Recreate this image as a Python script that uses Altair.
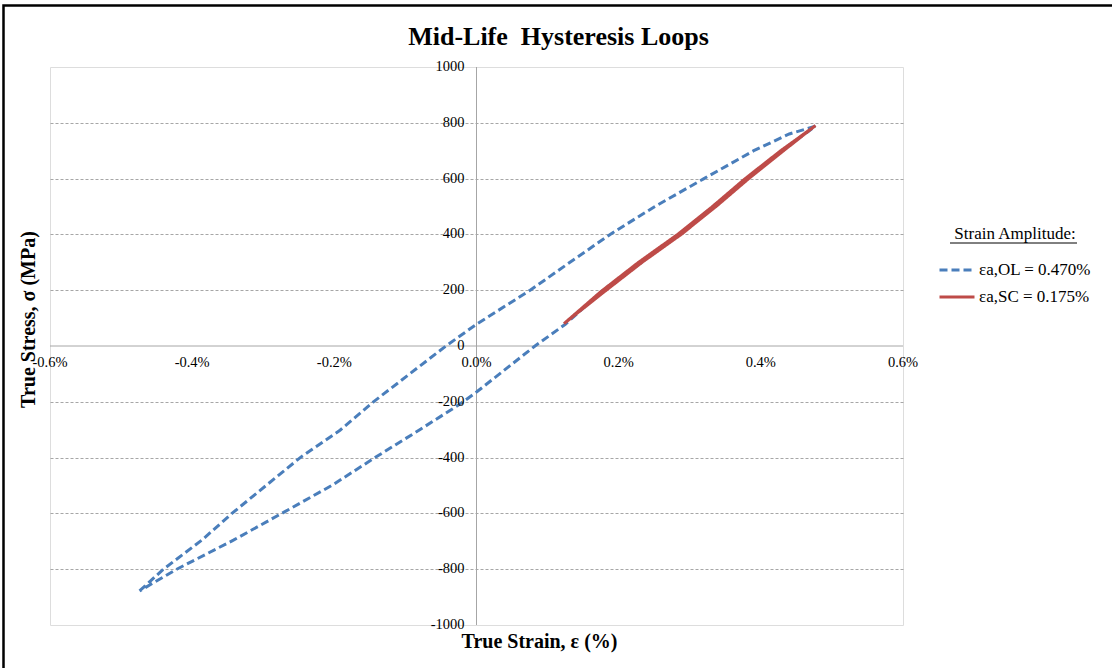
import altair as alt
import pandas as pd

SERIF = "Liberation Serif"

# Overload loop (OL): true strain in %, true stress in MPa, listed in traversal order
ol_strain = [-0.474, -0.4405, -0.3865, -0.344, -0.248, -0.192, -0.145, -0.043, 0.0,
             0.0755, 0.1315, 0.188, 0.251, 0.32, 0.39, 0.44, 0.4768,
             0.43, 0.38, 0.333, 0.285, 0.232, 0.178, 0.125, 0.0823, 0.0,
             -0.0232, -0.081, -0.1428, -0.203, -0.274, -0.342, -0.4217, -0.474]
ol_stress = [-878, -800, -696, -600, -400, -302, -200, 0, 78,
             200, 300, 400, 500, 600, 700, 760, 788,
             700, 600, 500, 400, 300, 200, 78, 0, -165,
             -208, -302, -400, -499, -600, -696, -800, -878]

# Small-cycle loop (SC)
sc_strain = [0.123, 0.175, 0.228, 0.283, 0.332, 0.378, 0.428, 0.4768,
             0.432, 0.383, 0.337, 0.288, 0.233, 0.18, 0.123]
sc_stress = [80, 195, 300, 400, 500, 600, 700, 790,
             700, 600, 500, 400, 300, 195, 80]

series_names = ["εa,OL = 0.470%", "εa,SC = 0.175%"]
series_colors = ["#4a7ebb", "#be4b48"]
series_dash = [[8, 4], [1, 0]]

x_ticks = [-0.6, -0.4, -0.2, 0.0, 0.2, 0.4, 0.6]
x_tick_labels = ["-0.6%", "-0.4%", "-0.2%", "0.0%", "0.2%", "0.4%", "0.6%"]
y_ticks = [1000, 800, 600, 400, 200, 0, -200, -400, -600, -800, -1000]
y_tick_labels = ["1000", "800", "600", "400", "200", "0", "-200", "-400", "-600", "-800", "-1000"]
grid_values = [800, 600, 400, 200, -200, -400, -600, -800]

loops = pd.concat([
    pd.DataFrame({"strain": ol_strain, "stress": ol_stress,
                  "series": series_names[0], "idx": range(len(ol_strain))}),
    pd.DataFrame({"strain": sc_strain, "stress": sc_stress,
                  "series": series_names[1], "idx": range(len(sc_strain))}),
])
x_lab = pd.DataFrame({"strain": x_ticks, "stress": 0, "label": x_tick_labels})
y_lab = pd.DataFrame({"strain": 0.0, "stress": y_ticks, "label": y_tick_labels})
origin = pd.DataFrame({"strain": [0.0], "stress": [0.0]})

GRID_GRAY = "#a6a6a6"
xs = alt.Scale(domain=[-0.6, 0.6], nice=False, zero=False)
ys = alt.Scale(domain=[-1000, 1000], nice=False, zero=False)

x_axis = alt.Axis(
    title="True Strain, ε (%)", labels=False, ticks=False, domain=False, grid=False,
    titleFont=SERIF, titleFontSize=20, titleFontWeight="bold", titleColor="black",
    titleX=489, titleY=22, titleAlign="center", titleBaseline="alphabetic")
y_axis = alt.Axis(
    title="True Stress, σ (MPa)", labels=False, ticks=False, domain=False,
    grid=True, values=grid_values, gridColor=GRID_GRAY, gridDash=[3, 2], gridWidth=1,
    titleFont=SERIF, titleFontSize=20, titleFontWeight="bold", titleColor="black",
    titleAngle=270, titleX=-16, titleY=252, titleAlign="center",
    titleBaseline="alphabetic")


def X():
    return alt.X("strain:Q", scale=xs, axis=x_axis)


def Y():
    return alt.Y("stress:Q", scale=ys, axis=y_axis)


legend = alt.Legend(
    title="Strain Amplitude:", orient="none", legendX=888, legendY=159, padding=0,
    titleFont=SERIF, titleFontSize=17, titleFontWeight="normal", titleColor="black",
    titleAnchor="middle", titlePadding=8,
    labelFont=SERIF, labelFontSize=17, labelColor="black", labelOffset=3,
    symbolType="stroke", symbolSize=1225, symbolStrokeWidth=3, rowPadding=-6,
)

lines = alt.Chart(loops).mark_line(strokeWidth=3).encode(
    x=X(), y=Y(),
    color=alt.Color("series:N", scale=alt.Scale(domain=series_names, range=series_colors),
                    legend=legend),
    strokeDash=alt.StrokeDash("series:N",
                              scale=alt.Scale(domain=series_names, range=series_dash),
                              legend=legend),
    order=alt.Order("idx:Q"),
)

zero_v = alt.Chart(origin).mark_rule(color=GRID_GRAY, strokeWidth=1).encode(x=X())
zero_h = alt.Chart(origin).mark_rule(color=GRID_GRAY, strokeWidth=1).encode(y=Y())

x_text = alt.Chart(x_lab).mark_text(font=SERIF, fontSize=14.5, color="black",
                                    baseline="middle", align="center", dy=17).encode(
    x=X(), y=Y(), text="label:N")
y_text = alt.Chart(y_lab).mark_text(font=SERIF, fontSize=14.5, color="black",
                                    baseline="middle", align="right", dx=-12).encode(
    x=X(), y=Y(), text="label:N")

# outer frame of the figure and the underline of the legend heading
frame = alt.Chart(pd.DataFrame({"k": [0]})).mark_rect(
    fill="transparent", stroke="black", strokeWidth=2.5).encode(
    x=alt.value(-46.5), x2=alt.value(1200), y=alt.value(-61.5), y2=alt.value(800))
underline = alt.Chart(pd.DataFrame({"k": [0]})).mark_rule(
    color="black", strokeWidth=1).encode(
    x=alt.value(900), x2=alt.value(1027), y=alt.value(176))

chart = alt.layer(frame, zero_v, zero_h, lines, x_text, y_text, underline).properties(
    width=853, height=558,
    padding={"left": 50, "top": 67, "right": 209, "bottom": 43},
    autosize=alt.AutoSizeParams(type="none"),
    title=alt.Title("Mid-Life\u00a0 Hysteresis Loops", font=SERIF, fontSize=26,
                    fontWeight="bold", color="black", anchor="middle", frame="group",
                    dx=82, offset=-66.75, baseline="alphabetic"),
).configure_view(stroke=GRID_GRAY, strokeWidth=1).configure(background="white")

chart.save("out.html", embed_options={"renderer": "svg", "actions": False})
